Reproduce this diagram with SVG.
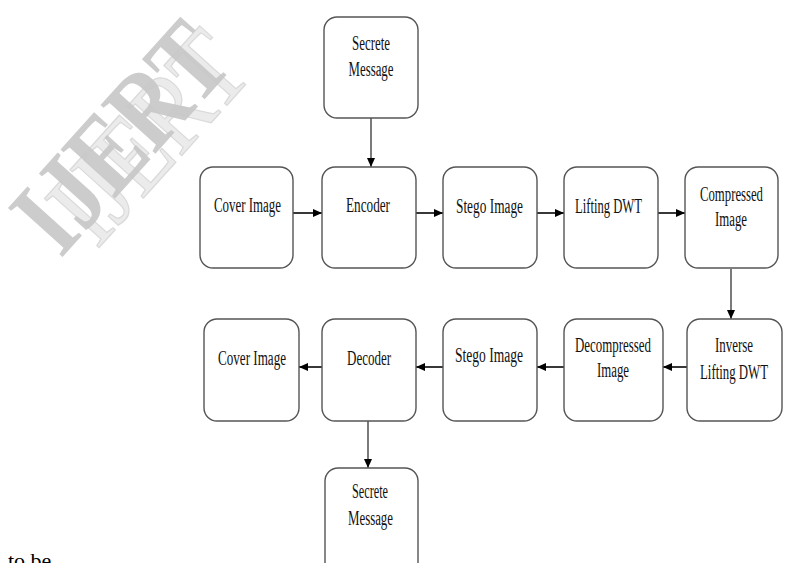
<svg xmlns="http://www.w3.org/2000/svg" width="787" height="563" viewBox="0 0 787 563">
<style>
.box{fill:#fff;stroke:#555;stroke-width:1.4}
.t{font-family:"Liberation Serif","Times New Roman",serif;font-size:20px;fill:#111;text-anchor:middle}
.c{stroke:#222;stroke-width:1.8;fill:none}
.cv{stroke:#333;stroke-width:1.3;fill:none}
.wm{font-family:"Liberation Serif","Times New Roman",serif;font-size:100px;text-anchor:middle}
</style>
<defs>
<marker id="ah" markerUnits="userSpaceOnUse" markerWidth="10" markerHeight="10" viewBox="0 0 10 10" refX="9" refY="5" orient="auto">
<path d="M0,1 L9,5 L0,9 Z" fill="#000"/>
</marker>
</defs>
<rect width="787" height="563" fill="#fff"/>
<g id="watermark">
<text class="wm" x="0" y="0" fill="#ebebeb" stroke="#dadada" stroke-width="1.2" transform="translate(176,162) rotate(-48) scale(0.93,1.12)">IJERT</text>
<text class="wm" x="0" y="0" fill="#c6c6c6" font-weight="bold" fill-opacity="0.9" transform="translate(148,162) rotate(-48) scale(0.9,1.12)">IJERT</text>
</g>
<g id="connectors">
<line class="cv" x1="371" y1="118" x2="371" y2="167" marker-end="url(#ah)"/>
<line class="c" x1="293" y1="213" x2="322" y2="213" marker-end="url(#ah)"/>
<line class="c" x1="416" y1="213" x2="443" y2="213" marker-end="url(#ah)"/>
<line class="c" x1="537" y1="213" x2="564" y2="213" marker-end="url(#ah)"/>
<line class="c" x1="658" y1="213" x2="685" y2="213" marker-end="url(#ah)"/>
<line class="cv" x1="731" y1="269" x2="731" y2="319" marker-end="url(#ah)"/>
<line class="c" x1="687" y1="367" x2="663" y2="367" marker-end="url(#ah)"/>
<line class="c" x1="564" y1="367" x2="537" y2="367" marker-end="url(#ah)"/>
<line class="c" x1="443" y1="367" x2="416" y2="367" marker-end="url(#ah)"/>
<line class="c" x1="322" y1="367" x2="299" y2="367" marker-end="url(#ah)"/>
<line class="cv" x1="368" y1="421" x2="368" y2="468" marker-end="url(#ah)"/>
</g>
<g id="secret-in">
<rect class="box" x="324" y="17" width="94" height="101" rx="13"/>
<text class="t" x="371" y="50" textLength="38" lengthAdjust="spacingAndGlyphs">Secrete</text>
<text class="t" x="371" y="76" textLength="45" lengthAdjust="spacingAndGlyphs">Message</text>
</g>
<g id="cover-in">
<rect class="box" x="200" y="167" width="93" height="101" rx="13"/>
<text class="t" x="247.5" y="212" textLength="67" lengthAdjust="spacingAndGlyphs">Cover Image</text>
</g>
<g id="encoder">
<rect class="box" x="322" y="167" width="94" height="101" rx="13"/>
<text class="t" x="368" y="212" textLength="44" lengthAdjust="spacingAndGlyphs">Encoder</text>
</g>
<g id="stego-1">
<rect class="box" x="443" y="167" width="94" height="101" rx="13"/>
<text class="t" x="489.5" y="213" textLength="67" lengthAdjust="spacingAndGlyphs">Stego Image</text>
</g>
<g id="lifting">
<rect class="box" x="564" y="167" width="94" height="101" rx="13"/>
<text class="t" x="608.5" y="213" textLength="67" lengthAdjust="spacingAndGlyphs">Lifting DWT</text>
</g>
<g id="compressed">
<rect class="box" x="685" y="167" width="93" height="101" rx="13"/>
<text class="t" x="731.5" y="201" textLength="63" lengthAdjust="spacingAndGlyphs">Compressed</text>
<text class="t" x="731" y="226" textLength="32" lengthAdjust="spacingAndGlyphs">Image</text>
</g>
<g id="cover-out">
<rect class="box" x="204" y="319" width="95" height="102" rx="13"/>
<text class="t" x="252" y="365" textLength="68" lengthAdjust="spacingAndGlyphs">Cover Image</text>
</g>
<g id="decoder">
<rect class="box" x="322" y="319" width="94" height="102" rx="13"/>
<text class="t" x="369" y="365" textLength="44" lengthAdjust="spacingAndGlyphs">Decoder</text>
</g>
<g id="stego-2">
<rect class="box" x="443" y="319" width="94" height="102" rx="13"/>
<text class="t" x="489" y="362" textLength="68" lengthAdjust="spacingAndGlyphs">Stego Image</text>
</g>
<g id="decompressed">
<rect class="box" x="564" y="319" width="99" height="102" rx="13"/>
<text class="t" x="613" y="352" textLength="76" lengthAdjust="spacingAndGlyphs">Decompressed</text>
<text class="t" x="613" y="377" textLength="32" lengthAdjust="spacingAndGlyphs">Image</text>
</g>
<g id="inverse">
<rect class="box" x="687" y="319" width="95" height="102" rx="13"/>
<text class="t" x="734" y="352" textLength="38" lengthAdjust="spacingAndGlyphs">Inverse</text>
<text class="t" x="734" y="379" textLength="68" lengthAdjust="spacingAndGlyphs">Lifting DWT</text>
</g>
<g id="secret-out">
<rect class="box" x="325" y="468" width="93" height="110" rx="13"/>
<text class="t" x="370" y="498" textLength="36" lengthAdjust="spacingAndGlyphs">Secrete</text>
<text class="t" x="370.5" y="525" textLength="45" lengthAdjust="spacingAndGlyphs">Message</text>
</g>
<text x="8" y="568" font-family="'Liberation Serif','Times New Roman',serif" font-size="22" fill="#000">to be</text>
</svg>
